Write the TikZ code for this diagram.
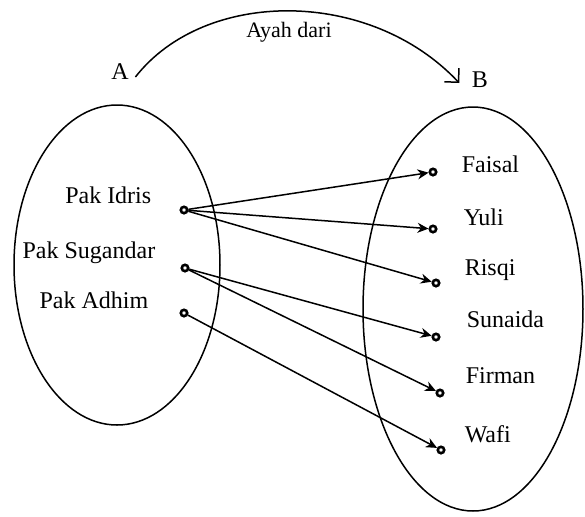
\documentclass[tikz,border=0pt]{standalone}
\usepackage{fontspec}
\setmainfont{Liberation Serif}
\usetikzlibrary{arrows.meta,shapes.geometric}

\begin{document}
\begin{tikzpicture}[x=0.5pt,y=-0.5pt,font=\fontsize{12}{14}\selectfont,line width=0.75pt,
  dot/.style={draw,circle,line width=1.3pt,minimum size=3.2pt,inner sep=0pt},
  setbox/.style={draw,ellipse,inner sep=0pt},
  lbl/.style={inner sep=1pt},
  map/.style={-{Stealth[length=5.5pt,width=5pt]}}]
%\draw[help lines] (0,0) grid (585,516);
\useasboundingbox (0,0) rectangle (585,516);
\node (setA) [setbox,minimum width=103pt,minimum height=160pt] at (117,265) {};
\node (setB) [setbox,minimum width=110pt,minimum height=202pt] at (473,309) {};
\node (labA) [lbl] at (120,72) {A};
\node (labB) [lbl] at (480,80) {B};
\node (ayah) [lbl,font=\fontsize{11}{13}\selectfont] at (289,32) {Ayah dari};
\node (idris) [lbl,anchor=base east] at (154,203) {Pak Idris};
\node (sugandar) [lbl,anchor=base east] at (158,258) {Pak Sugandar};
\node (adhim) [lbl,anchor=base east] at (151,308) {Pak Adhim};
\node (d_idris) [dot] at (184,210) {};
\node (d_sugandar) [dot] at (185,268) {};
\node (d_adhim) [dot] at (184,313) {};
\node (faisal) [lbl,anchor=base west] at (459,172) {Faisal};
\node (yuli) [lbl,anchor=base west] at (461,225) {Yuli};
\node (risqi) [lbl,anchor=base west] at (462,275) {Risqi};
\node (sunaida) [lbl,anchor=base west] at (464,327) {Sunaida};
\node (firman) [lbl,anchor=base west] at (463,383) {Firman};
\node (wafi) [lbl,anchor=base west] at (462,442) {Wafi};
\node (d_faisal) [dot] at (433,172) {};
\node (d_yuli) [dot] at (433,229) {};
\node (d_risqi) [dot] at (436,283) {};
\node (d_sunaida) [dot] at (436,337) {};
\node (d_firman) [dot] at (440,393) {};
\node (d_wafi) [dot] at (441,450) {};

\draw [-{Straight Barb[length=5pt,width=10pt]}]
  ([shift={(4,5)}]labA.east) .. controls (205,-12) and (370,-12) .. ([shift={(-10,3)}]labB.west);

\path
(d_idris) edge [map] (d_faisal)
(d_idris) edge [map] (d_yuli)
(d_idris) edge [map] (d_risqi)
(d_sugandar) edge [map] (d_sunaida)
(d_sugandar) edge [map] (d_firman)
(d_adhim) edge [map] (d_wafi);
\end{tikzpicture}
\end{document}
